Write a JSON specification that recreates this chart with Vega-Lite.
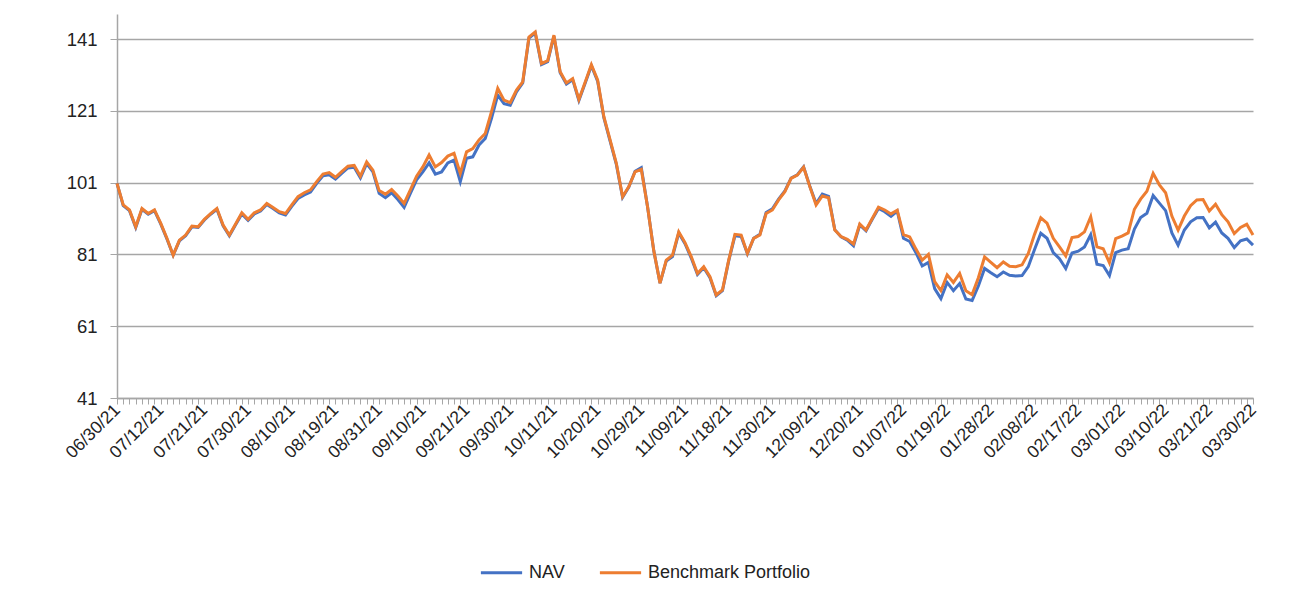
{
 "$schema": "https://vega.github.io/schema/vega-lite/v6.json",
 "width": 1136,
 "height": 384,
 "autosize": {"type": "none"},
 "padding": {"left": 117, "top": 14, "right": 41, "bottom": 202},
 "background": "white",
 "config": {"view": {"stroke": null}, "font": "Liberation Sans"},
 "data": {"values": [
  {"date":"06/30/21","NAV":100.8,"Benchmark":100.8},
  {"date":"07/01/21","NAV":94.6,"Benchmark":94.8},
  {"date":"07/02/21","NAV":93.2,"Benchmark":93.4},
  {"date":"07/06/21","NAV":88.5,"Benchmark":88.7},
  {"date":"07/07/21","NAV":93.6,"Benchmark":93.8},
  {"date":"07/08/21","NAV":92.2,"Benchmark":92.4},
  {"date":"07/09/21","NAV":93.2,"Benchmark":93.4},
  {"date":"07/12/21","NAV":89.5,"Benchmark":89.7},
  {"date":"07/13/21","NAV":85.3,"Benchmark":85.5},
  {"date":"07/14/21","NAV":80.8,"Benchmark":80.8},
  {"date":"07/15/21","NAV":84.8,"Benchmark":85.0},
  {"date":"07/16/21","NAV":86.2,"Benchmark":86.4},
  {"date":"07/19/21","NAV":88.7,"Benchmark":88.9},
  {"date":"07/20/21","NAV":88.5,"Benchmark":88.7},
  {"date":"07/21/21","NAV":90.6,"Benchmark":90.8},
  {"date":"07/22/21","NAV":92.2,"Benchmark":92.4},
  {"date":"07/23/21","NAV":93.6,"Benchmark":93.8},
  {"date":"07/26/21","NAV":89.0,"Benchmark":89.2},
  {"date":"07/27/21","NAV":86.2,"Benchmark":86.4},
  {"date":"07/28/21","NAV":89.3,"Benchmark":89.5},
  {"date":"07/29/21","NAV":92.3,"Benchmark":92.6},
  {"date":"07/30/21","NAV":90.5,"Benchmark":90.8},
  {"date":"08/02/21","NAV":92.3,"Benchmark":92.6},
  {"date":"08/03/21","NAV":93.1,"Benchmark":93.4},
  {"date":"08/04/21","NAV":94.9,"Benchmark":95.2},
  {"date":"08/05/21","NAV":93.8,"Benchmark":94.1},
  {"date":"08/06/21","NAV":92.6,"Benchmark":92.9},
  {"date":"08/09/21","NAV":92.0,"Benchmark":92.4},
  {"date":"08/10/21","NAV":94.4,"Benchmark":94.8},
  {"date":"08/11/21","NAV":96.6,"Benchmark":97.1},
  {"date":"08/12/21","NAV":97.6,"Benchmark":98.2},
  {"date":"08/13/21","NAV":98.4,"Benchmark":99.0},
  {"date":"08/16/21","NAV":100.8,"Benchmark":101.3},
  {"date":"08/17/21","NAV":102.9,"Benchmark":103.4},
  {"date":"08/18/21","NAV":103.2,"Benchmark":103.8},
  {"date":"08/19/21","NAV":102.0,"Benchmark":102.5},
  {"date":"08/20/21","NAV":103.6,"Benchmark":104.1},
  {"date":"08/23/21","NAV":105.1,"Benchmark":105.6},
  {"date":"08/24/21","NAV":105.3,"Benchmark":105.8},
  {"date":"08/25/21","NAV":102.3,"Benchmark":102.8},
  {"date":"08/26/21","NAV":106.3,"Benchmark":106.8},
  {"date":"08/30/21","NAV":104.0,"Benchmark":104.5},
  {"date":"08/31/21","NAV":98.0,"Benchmark":98.8},
  {"date":"09/01/21","NAV":96.8,"Benchmark":97.8},
  {"date":"09/02/21","NAV":98.2,"Benchmark":99.1},
  {"date":"09/03/21","NAV":96.3,"Benchmark":97.3},
  {"date":"09/07/21","NAV":94.1,"Benchmark":95.2},
  {"date":"09/08/21","NAV":98.0,"Benchmark":99.0},
  {"date":"09/09/21","NAV":101.8,"Benchmark":102.8},
  {"date":"09/10/21","NAV":104.0,"Benchmark":105.4},
  {"date":"09/13/21","NAV":106.5,"Benchmark":108.7},
  {"date":"09/14/21","NAV":103.4,"Benchmark":105.4},
  {"date":"09/15/21","NAV":104.0,"Benchmark":106.6},
  {"date":"09/16/21","NAV":106.5,"Benchmark":108.4},
  {"date":"09/17/21","NAV":107.3,"Benchmark":109.2},
  {"date":"09/20/21","NAV":101.3,"Benchmark":103.6},
  {"date":"09/21/21","NAV":107.8,"Benchmark":109.6},
  {"date":"09/22/21","NAV":108.2,"Benchmark":110.5},
  {"date":"09/23/21","NAV":111.5,"Benchmark":112.9},
  {"date":"09/24/21","NAV":113.3,"Benchmark":114.7},
  {"date":"09/27/21","NAV":118.9,"Benchmark":120.8},
  {"date":"09/28/21","NAV":125.4,"Benchmark":127.3},
  {"date":"09/29/21","NAV":123.0,"Benchmark":124.0},
  {"date":"09/30/21","NAV":122.6,"Benchmark":123.3},
  {"date":"10/01/21","NAV":126.3,"Benchmark":126.8},
  {"date":"10/04/21","NAV":128.8,"Benchmark":129.1},
  {"date":"10/05/21","NAV":141.3,"Benchmark":141.6},
  {"date":"10/06/21","NAV":142.7,"Benchmark":143.0},
  {"date":"10/07/21","NAV":133.9,"Benchmark":134.2},
  {"date":"10/08/21","NAV":134.7,"Benchmark":135.0},
  {"date":"10/11/21","NAV":141.8,"Benchmark":142.1},
  {"date":"10/12/21","NAV":131.6,"Benchmark":131.9},
  {"date":"10/13/21","NAV":128.5,"Benchmark":128.8},
  {"date":"10/14/21","NAV":129.7,"Benchmark":130.0},
  {"date":"10/15/21","NAV":123.9,"Benchmark":124.2},
  {"date":"10/18/21","NAV":128.7,"Benchmark":129.0},
  {"date":"10/19/21","NAV":133.6,"Benchmark":133.9},
  {"date":"10/20/21","NAV":129.3,"Benchmark":129.6},
  {"date":"10/21/21","NAV":119.1,"Benchmark":119.4},
  {"date":"10/22/21","NAV":112.6,"Benchmark":112.9},
  {"date":"10/25/21","NAV":106.1,"Benchmark":106.4},
  {"date":"10/26/21","NAV":96.9,"Benchmark":97.1},
  {"date":"10/27/21","NAV":99.8,"Benchmark":99.9},
  {"date":"10/28/21","NAV":104.2,"Benchmark":104.0},
  {"date":"10/29/21","NAV":105.2,"Benchmark":104.7},
  {"date":"11/01/21","NAV":94.3,"Benchmark":94.3},
  {"date":"11/02/21","NAV":82.0,"Benchmark":82.0},
  {"date":"11/03/21","NAV":73.0,"Benchmark":73.0},
  {"date":"11/04/21","NAV":79.2,"Benchmark":79.4},
  {"date":"11/05/21","NAV":80.4,"Benchmark":80.8},
  {"date":"11/08/21","NAV":87.0,"Benchmark":87.3},
  {"date":"11/09/21","NAV":84.0,"Benchmark":84.3},
  {"date":"11/10/21","NAV":80.0,"Benchmark":80.4},
  {"date":"11/11/21","NAV":75.4,"Benchmark":75.7},
  {"date":"11/12/21","NAV":77.3,"Benchmark":77.6},
  {"date":"11/15/21","NAV":74.5,"Benchmark":74.8},
  {"date":"11/16/21","NAV":69.5,"Benchmark":69.7},
  {"date":"11/17/21","NAV":70.9,"Benchmark":71.1},
  {"date":"11/18/21","NAV":79.2,"Benchmark":79.4},
  {"date":"11/19/21","NAV":86.2,"Benchmark":86.6},
  {"date":"11/22/21","NAV":86.0,"Benchmark":86.4},
  {"date":"11/23/21","NAV":81.2,"Benchmark":81.3},
  {"date":"11/24/21","NAV":85.5,"Benchmark":85.5},
  {"date":"11/26/21","NAV":86.6,"Benchmark":86.4},
  {"date":"11/29/21","NAV":92.7,"Benchmark":92.4},
  {"date":"11/30/21","NAV":93.7,"Benchmark":93.4},
  {"date":"12/01/21","NAV":96.4,"Benchmark":96.2},
  {"date":"12/02/21","NAV":98.7,"Benchmark":98.5},
  {"date":"12/03/21","NAV":102.3,"Benchmark":102.2},
  {"date":"12/06/21","NAV":103.2,"Benchmark":103.1},
  {"date":"12/07/21","NAV":105.4,"Benchmark":105.3},
  {"date":"12/08/21","NAV":100.0,"Benchmark":99.9},
  {"date":"12/09/21","NAV":95.2,"Benchmark":94.8},
  {"date":"12/10/21","NAV":97.8,"Benchmark":97.3},
  {"date":"12/13/21","NAV":97.2,"Benchmark":96.8},
  {"date":"12/14/21","NAV":87.9,"Benchmark":87.8},
  {"date":"12/15/21","NAV":85.9,"Benchmark":86.0},
  {"date":"12/16/21","NAV":85.0,"Benchmark":85.2},
  {"date":"12/17/21","NAV":83.4,"Benchmark":83.9},
  {"date":"12/20/21","NAV":89.2,"Benchmark":89.5},
  {"date":"12/21/21","NAV":87.6,"Benchmark":87.8},
  {"date":"12/23/21","NAV":90.8,"Benchmark":91.0},
  {"date":"12/28/21","NAV":93.8,"Benchmark":94.2},
  {"date":"12/30/21","NAV":92.9,"Benchmark":93.4},
  {"date":"01/03/22","NAV":91.6,"Benchmark":92.3},
  {"date":"01/05/22","NAV":93.1,"Benchmark":93.3},
  {"date":"01/07/22","NAV":85.5,"Benchmark":86.5},
  {"date":"01/10/22","NAV":84.6,"Benchmark":85.9},
  {"date":"01/11/22","NAV":81.5,"Benchmark":82.5},
  {"date":"01/12/22","NAV":77.8,"Benchmark":79.4},
  {"date":"01/13/22","NAV":78.8,"Benchmark":81.0},
  {"date":"01/14/22","NAV":71.5,"Benchmark":73.4},
  {"date":"01/18/22","NAV":68.7,"Benchmark":70.9},
  {"date":"01/19/22","NAV":73.2,"Benchmark":75.3},
  {"date":"01/20/22","NAV":70.9,"Benchmark":73.2},
  {"date":"01/21/22","NAV":72.9,"Benchmark":75.7},
  {"date":"01/24/22","NAV":68.6,"Benchmark":70.9},
  {"date":"01/25/22","NAV":68.2,"Benchmark":69.8},
  {"date":"01/26/22","NAV":72.2,"Benchmark":74.5},
  {"date":"01/27/22","NAV":77.1,"Benchmark":80.3},
  {"date":"01/28/22","NAV":75.9,"Benchmark":78.8},
  {"date":"01/31/22","NAV":74.8,"Benchmark":77.3},
  {"date":"02/01/22","NAV":76.1,"Benchmark":78.9},
  {"date":"02/02/22","NAV":75.2,"Benchmark":77.7},
  {"date":"02/03/22","NAV":75.0,"Benchmark":77.6},
  {"date":"02/04/22","NAV":75.1,"Benchmark":78.1},
  {"date":"02/07/22","NAV":77.6,"Benchmark":81.3},
  {"date":"02/08/22","NAV":82.4,"Benchmark":86.6},
  {"date":"02/09/22","NAV":86.9,"Benchmark":91.2},
  {"date":"02/10/22","NAV":85.5,"Benchmark":89.7},
  {"date":"02/11/22","NAV":81.5,"Benchmark":85.5},
  {"date":"02/14/22","NAV":79.8,"Benchmark":83.1},
  {"date":"02/15/22","NAV":77.1,"Benchmark":80.6},
  {"date":"02/16/22","NAV":81.4,"Benchmark":85.7},
  {"date":"02/17/22","NAV":81.9,"Benchmark":86.0},
  {"date":"02/18/22","NAV":83.1,"Benchmark":87.3},
  {"date":"02/22/22","NAV":86.5,"Benchmark":91.5},
  {"date":"02/23/22","NAV":78.3,"Benchmark":83.1},
  {"date":"02/24/22","NAV":77.9,"Benchmark":82.6},
  {"date":"02/25/22","NAV":75.1,"Benchmark":78.7},
  {"date":"02/28/22","NAV":81.5,"Benchmark":85.4},
  {"date":"03/01/22","NAV":82.2,"Benchmark":86.1},
  {"date":"03/02/22","NAV":82.6,"Benchmark":87.0},
  {"date":"03/03/22","NAV":88.1,"Benchmark":93.6},
  {"date":"03/04/22","NAV":91.3,"Benchmark":96.4},
  {"date":"03/07/22","NAV":92.5,"Benchmark":98.6},
  {"date":"03/08/22","NAV":97.4,"Benchmark":103.6},
  {"date":"03/09/22","NAV":95.3,"Benchmark":100.4},
  {"date":"03/10/22","NAV":93.2,"Benchmark":98.2},
  {"date":"03/11/22","NAV":87.0,"Benchmark":91.7},
  {"date":"03/14/22","NAV":83.6,"Benchmark":87.8},
  {"date":"03/15/22","NAV":87.8,"Benchmark":91.7},
  {"date":"03/16/22","NAV":90.1,"Benchmark":94.6},
  {"date":"03/17/22","NAV":91.2,"Benchmark":96.2},
  {"date":"03/18/22","NAV":91.3,"Benchmark":96.3},
  {"date":"03/21/22","NAV":88.4,"Benchmark":93.1},
  {"date":"03/22/22","NAV":90.0,"Benchmark":95.0},
  {"date":"03/23/22","NAV":87.0,"Benchmark":92.1},
  {"date":"03/24/22","NAV":85.5,"Benchmark":90.1},
  {"date":"03/25/22","NAV":82.9,"Benchmark":86.8},
  {"date":"03/28/22","NAV":84.8,"Benchmark":88.5},
  {"date":"03/29/22","NAV":85.3,"Benchmark":89.4},
  {"date":"03/30/22","NAV":83.6,"Benchmark":86.4}
 ]},
 "encoding": {
  "x": {
   "field": "date", "type": "ordinal", "sort": null,
   "scale": {"type": "point", "padding": 0},
   "axis": {
    "title": null, "grid": false,
    "labelAngle": -45, "labelAlign": "right", "labelBaseline": "middle",
    "labelFontSize": 17.5, "labelColor": "#222222", "labelPadding": 3,
    "labelOverlap": false, "labelBound": false, "labelFlush": false,
    "tickSize": 6, "tickColor": "#a6a6a6", "domainColor": "#a6a6a6", "domainWidth": 1.5,
    "labelExpr": "indexof(['06/30/21','07/12/21','07/21/21','07/30/21','08/10/21','08/19/21','08/31/21','09/10/21','09/21/21','09/30/21','10/11/21','10/20/21','10/29/21','11/09/21','11/18/21','11/30/21','12/09/21','12/20/21','01/07/22','01/19/22','01/28/22','02/08/22','02/17/22','03/01/22','03/10/22','03/21/22','03/30/22'], datum.value) >= 0 ? datum.value : ''"
   }
  }
 },
 "layer": [
  {
   "mark": {"type": "line", "strokeWidth": 3},
   "encoding": {
    "y": {
     "field": "NAV", "type": "quantitative",
     "scale": {"domain": [41, 148], "nice": false, "zero": false},
     "axis": {
      "title": null, "values": [41, 61, 81, 101, 121, 141],
      "grid": true, "gridColor": "#a6a6a6", "gridWidth": 1.5,
      "labelFontSize": 18.5, "labelColor": "#222222", "labelPadding": 13,
      "tickSize": 7, "tickColor": "#a6a6a6", "domainColor": "#a6a6a6", "domainWidth": 1.5
     }
    },
    "color": {
     "datum": "NAV",
     "scale": {"domain": ["NAV", "Benchmark Portfolio"], "range": ["#4472C4", "#ED7D31"]},
     "legend": {
      "title": null, "orient": "none", "legendX": 362, "legendY": 536,
      "direction": "horizontal", "symbolType": "stroke", "symbolSize": 1700,
      "symbolStrokeWidth": 3, "labelFontSize": 18, "labelColor": "#222222",
      "labelOffset": 5, "columnPadding": 28, "labelLimit": 400
     }
    }
   }
  },
  {
   "mark": {"type": "line", "strokeWidth": 3},
   "encoding": {
    "y": {"field": "Benchmark", "type": "quantitative", "axis": {"title": null}},
    "color": {"datum": "Benchmark Portfolio"}
   }
  }
 ]
}
